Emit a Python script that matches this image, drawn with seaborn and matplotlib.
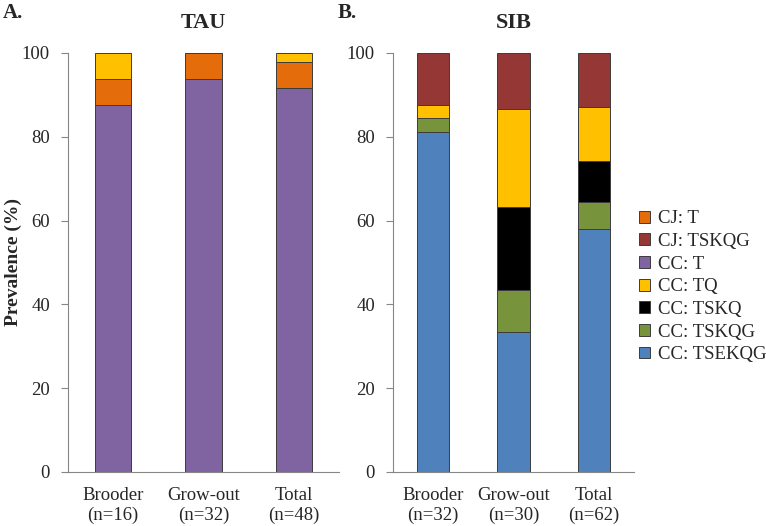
import numpy as np
import pandas as pd
import seaborn as sns
import matplotlib.pyplot as plt
from matplotlib.patches import Patch
from matplotlib.ticker import FixedLocator

# categories
tau_groups = ["Brooder\n(n=16)", "Grow-out\n(n=32)", "Total\n(n=48)"]
sib_groups = ["Brooder\n(n=32)", "Grow-out\n(n=30)", "Total\n(n=62)"]

# TAU stacks, bottom to top (prevalence %)
tau_cc_t = [87.5, 93.75, 91.67]
tau_cj_t = [6.25, 6.25, 6.25]
tau_cc_tq = [6.25, 0.0, 2.08]

# SIB stacks, bottom to top (prevalence %)
sib_cc_tsekqg = [81.25, 33.33, 58.06]
sib_cc_tskqg = [3.13, 10.0, 6.45]
sib_cc_tskq = [0.0, 20.0, 9.68]
sib_cc_tq = [3.13, 23.33, 12.90]
sib_cj_tskqg = [12.5, 13.33, 12.90]

colors = {
    "CJ: T": "#E46C0A",
    "CJ: TSKQG": "#953735",
    "CC: T": "#8064A2",
    "CC: TQ": "#FFC000",
    "CC: TSKQ": "#000000",
    "CC: TSKQG": "#77933C",
    "CC: TSEKQG": "#4F81BD",
}
legend_order = ["CJ: T", "CJ: TSKQG", "CC: T", "CC: TQ", "CC: TSKQ", "CC: TSKQG", "CC: TSEKQG"]

tau_stack = [("CC: T", tau_cc_t), ("CJ: T", tau_cj_t), ("CC: TQ", tau_cc_tq)]
sib_stack = [("CC: TSEKQG", sib_cc_tsekqg), ("CC: TSKQG", sib_cc_tskqg),
             ("CC: TSKQ", sib_cc_tskq), ("CC: TQ", sib_cc_tq), ("CJ: TSKQG", sib_cj_tskqg)]

sns.set_theme(style="white")
plt.rcParams["font.family"] = ["Liberation Serif", "DejaVu Serif"]
axis_grey = "#868686"


def stacked(ax, groups, stack):
    bottom = np.zeros(len(groups))
    for name, vals in stack:
        df = pd.DataFrame({"group": groups, "value": vals})
        sns.barplot(data=df, x="group", y="value", order=groups, color=colors[name],
                    width=0.4, bottom=bottom, edgecolor="#3c3c3c", linewidth=0.7,
                    saturation=1, errorbar=None, ax=ax)
        bottom = bottom + np.array(vals)
    ax.set_xlim(-0.5, 2.5)
    ax.set_ylim(0, 100)
    ax.set_yticks(range(0, 101, 20))
    ax.set_xlabel("")
    ax.set_ylabel("")
    ax.xaxis.set_minor_locator(FixedLocator([0.5, 1.5, 2.5]))
    ax.tick_params(axis="x", which="major", length=0, labelsize=13.5, pad=11)
    ax.tick_params(axis="x", which="minor", length=5, width=0.8, color=axis_grey, direction="out")
    ax.tick_params(axis="y", length=5, width=0.8, color=axis_grey, direction="out",
                   labelsize=13.5, left=True, pad=8)
    for lab in ax.get_xticklabels():
        lab.set_linespacing(1.15)
    for side in ["top", "right"]:
        ax.spines[side].set_visible(False)
    for side in ["left", "bottom"]:
        ax.spines[side].set_color(axis_grey)
        ax.spines[side].set_linewidth(0.8)


fig = plt.figure(figsize=(7.66, 5.26), dpi=100)
ax1 = fig.add_axes([0.0888, 0.1027, 0.3538, 0.7966])
ax2 = fig.add_axes([0.513, 0.1027, 0.3146, 0.7966])

stacked(ax1, tau_groups, tau_stack)
stacked(ax2, sib_groups, sib_stack)

fig.text(0.018, 0.502, "Prevalence (%)", fontsize=14, fontweight="bold",
         rotation=90, ha="center", va="center")
ax1.set_title("TAU", fontsize=16, fontweight="bold", pad=18)
ax2.set_title("SIB", fontsize=16, fontweight="bold", pad=18)
fig.text(0.003, 0.994, "A.", fontsize=15, fontweight="bold", va="top")
fig.text(0.441, 0.994, "B.", fontsize=15, fontweight="bold", va="top")

handles = [Patch(facecolor=colors[k], edgecolor="#3c3c3c", linewidth=0.7) for k in legend_order]
fig.legend(handles, legend_order, loc="upper left", bbox_to_anchor=(0.834, 0.600),
           frameon=False, fontsize=13.5, handlelength=0.6, handleheight=0.6,
           handletextpad=0.4, labelspacing=0.3, borderaxespad=0, borderpad=0)

fig.savefig("out.png", dpi=100)
